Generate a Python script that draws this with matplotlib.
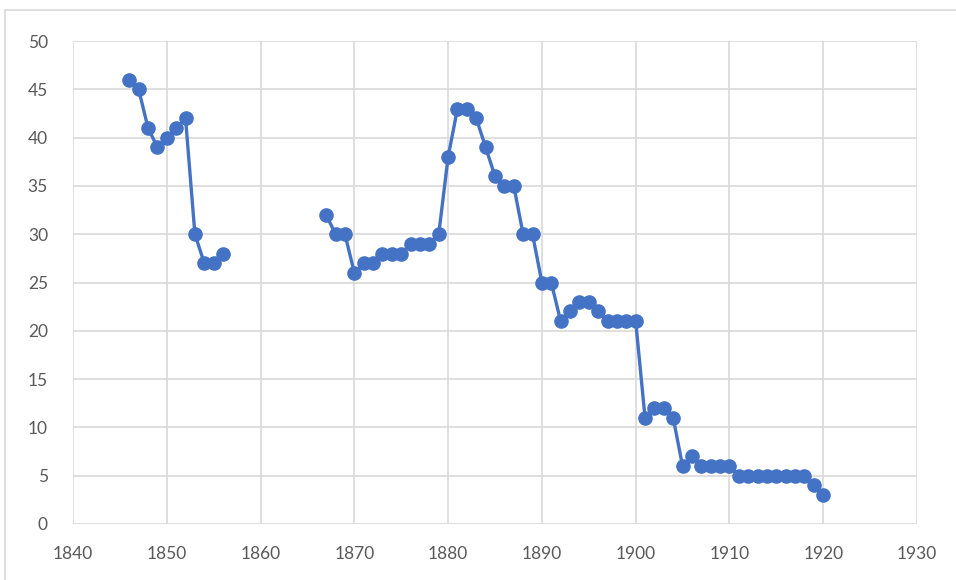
import numpy as np
import matplotlib
matplotlib.use("Agg")
import matplotlib.pyplot as plt
from matplotlib.patches import Rectangle

nan = np.nan

years = list(range(1846, 1921))
values = [
    46, 45, 41, 39, 40, 41, 42, 30, 27, 27, 28,           # 1846-1856
    nan, nan, nan, nan, nan, nan, nan, nan, nan, nan,      # 1857-1866
    32, 30, 30, 26, 27, 27, 28, 28, 28, 29, 29, 29, 30,    # 1867-1879
    38, 43, 43, 42, 39, 36, 35, 35, 30, 30,                # 1880-1889
    25, 25, 21, 22, 23, 23, 22, 21, 21, 21,                # 1890-1899
    21, 11, 12, 12, 11, 6, 7, 6, 6, 6,                     # 1900-1909
    6, 5, 5, 5, 5, 5, 5, 5, 5, 4, 3,                       # 1910-1920
]

xticks = list(range(1840, 1931, 10))
yticks = list(range(0, 51, 5))

plt.rcParams["font.family"] = ["Lato", "DejaVu Sans"]

fig = plt.figure(figsize=(9.56, 5.8), dpi=100)
ax = fig.add_axes([73 / 956, 1 - 524 / 580, (917 - 73) / 956, (524 - 41) / 580])

# chart frame (Excel style)
fig.patches.append(Rectangle((5 / 956, -0.1), 1.2, 1.1 - 10 / 580, transform=fig.transFigure,
                             fill=False, edgecolor="#D9D9D9", linewidth=1.2))

ax.plot(years, values, color="#4472C4", linewidth=2.4, marker="o", markersize=9.5,
        markerfacecolor="#4472C4", markeredgecolor="#4472C4", zorder=3)

ax.set_xlim(1840, 1930)
ax.set_ylim(0, 50)
ax.set_xticks(xticks)
ax.set_yticks(yticks)
ax.grid(True, color="#D9D9D9", linewidth=1.2)
ax.set_axisbelow(True)
for s in ax.spines.values():
    s.set_visible(False)
ax.tick_params(length=0, labelsize=12.5, colors="#595959")
ax.tick_params(axis="x", pad=16)
ax.tick_params(axis="y", pad=18)

fig.savefig("out.png", dpi=100)
plt.close(fig)
